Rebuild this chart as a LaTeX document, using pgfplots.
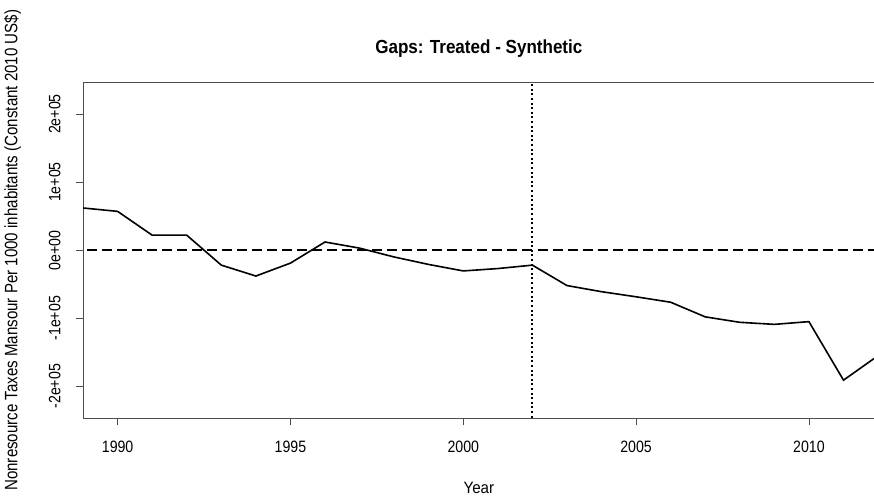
\documentclass[border=0pt]{standalone}
\usepackage{fontspec}
\setmainfont{Liberation Sans}
\usepackage{pgfplots}
\pgfplotsset{compat=1.18}
\begin{document}
\begin{tikzpicture}
\begin{axis}[
  scale only axis,
  width=791bp, height=336bp,
  xmin=1989, xmax=2011.9,
  ymin=-247000, ymax=247000,
  axis line style={line width=0.8bp, color=black!70},
  tick style={line width=0.8bp, color=black!70},
  tick align=outside,
  major tick length=7bp,
  tick pos=left,
  xtick={1990,1995,2000,2005,2010},
  ytick={-200000,-100000,0,100000,200000},
  yticklabels={-2e+05,-1e+05,0e+00,1e+05,2e+05},
  yticklabel style={xshift=-12bp, rotate=90, xscale=0.86, anchor=south, font=\fontsize{16.5}{18}\selectfont},
  xticklabel style={xscale=0.86, font=\fontsize{16.5}{18}\selectfont, yshift=-12bp},
  /pgf/number format/assume math mode=true,
  /pgf/number format/set thousands separator={},
  scaled y ticks=false,
  xlabel={Year},
  xlabel style={font=\fontsize{16.5}{18}\selectfont, xscale=0.92, yshift=-23bp},
  ylabel={Nonresource Taxes Mansour Per 1000 inhabitants (Constant 2010 US\$)},
  ylabel style={font=\fontsize{18}{20}\selectfont, xscale=0.84, yshift=21bp},
  title={\textbf{Gaps: Treated - Synthetic}},
  title style={font=\fontsize{19}{21}\selectfont, xscale=0.9, yshift=15bp},
  clip=true,
]
\addplot[black, line width=1.6bp] coordinates {
(1989,62000) (1990,57000) (1991,22000) (1992,22000) (1993,-22000)
(1994,-38000) (1995,-19000) (1996,12000) (1997,3000) (1998,-10000)
(1999,-21000) (2000,-30500) (2001,-27000) (2002,-22000) (2003,-52000)
(2004,-61000) (2005,-68500) (2006,-76500) (2007,-98000) (2008,-106000)
(2009,-109000) (2010,-105000) (2011,-191000) (2012,-155000)
};
\addplot[black, line width=1.6bp, dash pattern=on 10bp off 5bp] coordinates {(1980,0) (2020,0)};
\addplot[black, line width=2bp, dash pattern=on 2bp off 2.6bp] coordinates {(2002,-300000) (2002,300000)};
\coordinate (bl) at (rel axis cs:0,0);
\coordinate (tr) at (rel axis cs:1,1);
\end{axis}
\pgfresetboundingbox
\path ([shift={(-83bp,-80bp)}]bl) rectangle ([shift={(-0.6bp,82bp)}]tr);
\end{tikzpicture}
\end{document}
